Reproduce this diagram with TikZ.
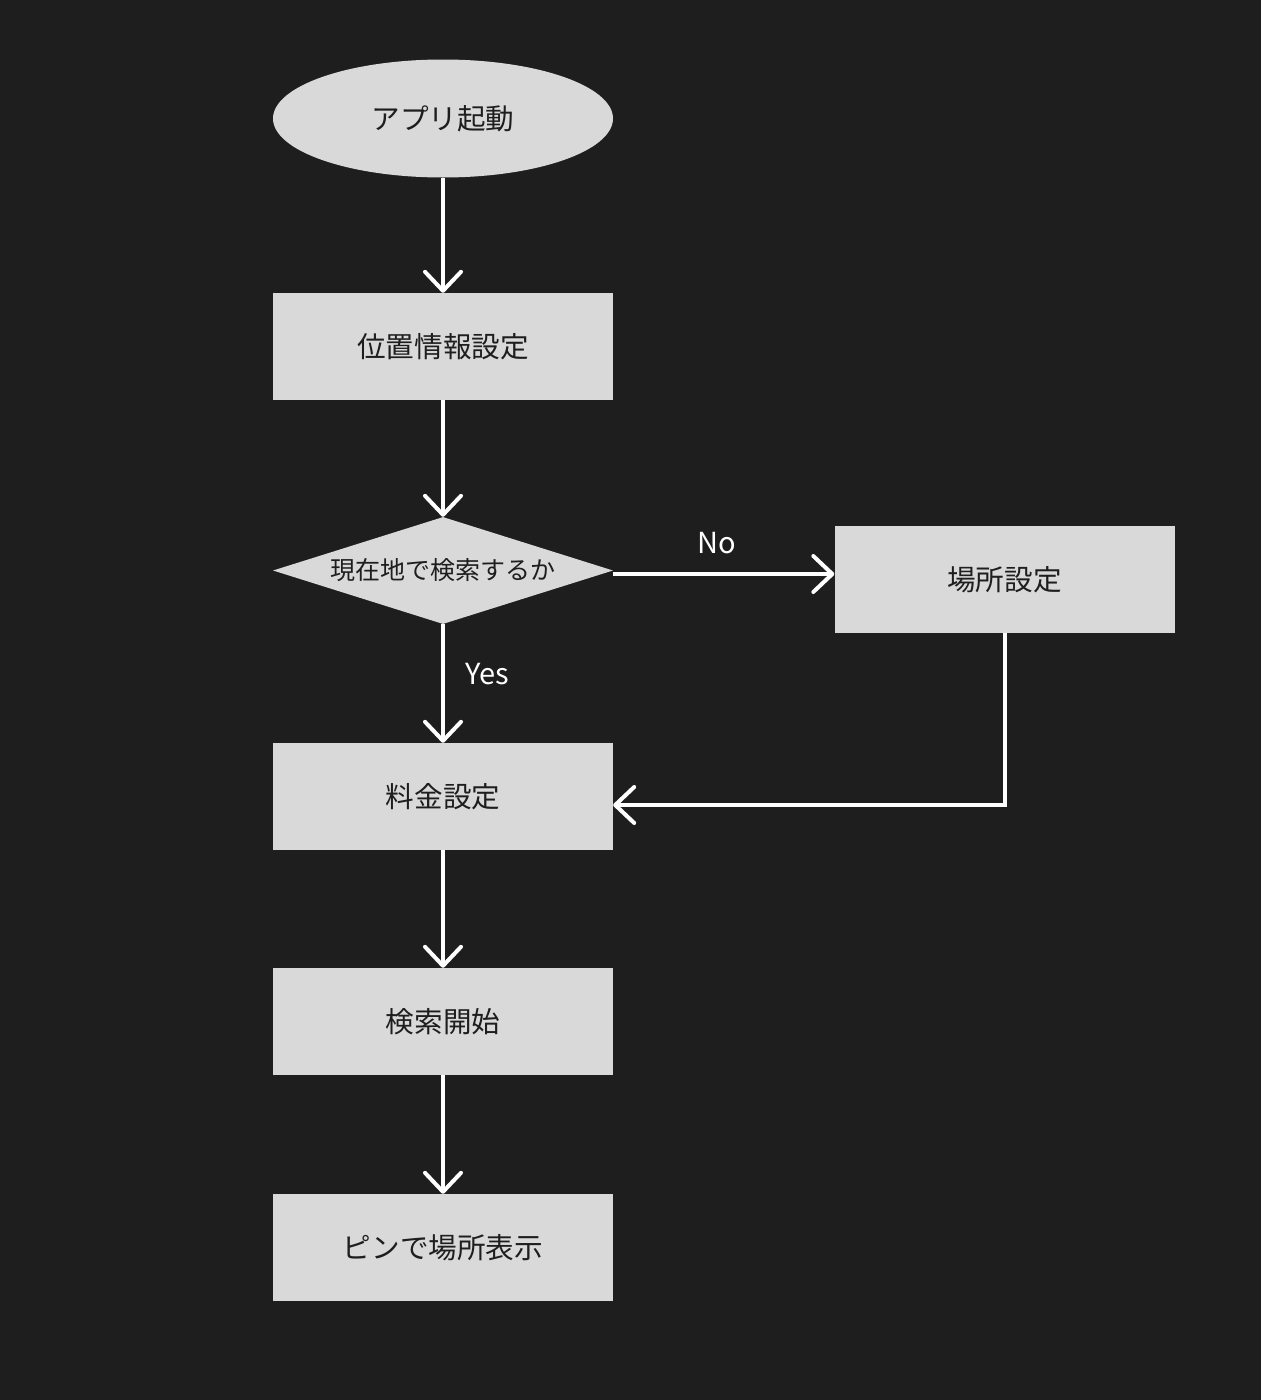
\documentclass[tikz,border=0pt]{standalone}
\usepackage{fontspec}
\setmainfont{Noto Sans CJK JP}
\usetikzlibrary{arrows.meta,shapes.geometric}
\definecolor{bg}{HTML}{1E1E1E}
\definecolor{nodefill}{HTML}{D9D9D9}
\definecolor{ink}{HTML}{1E1E1E}
\begin{document}
\begin{tikzpicture}[x=1pt,y=-1pt,
  box/.style={draw=none,fill=nodefill,minimum width=340pt,minimum height=107pt,inner sep=0pt,text=ink,font=\fontsize{28.6}{33}\selectfont},
  startnode/.style={ellipse,draw=none,fill=nodefill,minimum width=340pt,minimum height=118pt,inner sep=0pt,text=ink,font=\fontsize{28.6}{33}\selectfont},
  decision/.style={diamond,draw=none,fill=nodefill,minimum width=340pt,minimum height=107pt,aspect=3.18,inner sep=0pt,text=ink,font=\fontsize{25}{30}\selectfont},
  flow/.style={draw=white,line width=4pt,-{Straight Barb[length=19pt,width=36pt,line cap=round,line join=round]}},
  lbl/.style={text=white,font=\fontsize{29}{33}\selectfont,inner sep=0pt}]
\fill[bg] (0,0) rectangle (1261,1400);
\useasboundingbox (0,0) rectangle (1261,1400);
\node[startnode] (start) at (443,118.5) {アプリ起動};
\node[box] (loc) at (443,346.5) {位置情報設定};
\node[decision] (dec) at (443,570.5) {現在地で検索するか};
\node[box] (place) at (1004.5,579.5) {場所設定};
\node[box] (fee) at (443,796.5) {料金設定};
\node[box] (search) at (443,1021.5) {検索開始};
\node[box] (pin) at (443,1247.5) {ピンで場所表示};
\coordinate (bend) at (1004.5,805);
\draw[flow] (start.south) -- (loc.north);
\draw[flow] (loc.south) -- (dec.north);
\draw[flow] (dec.east |- 0,574) -- (place.west |- 0,574);
\draw[flow] (dec.south) -- (fee.north);
\draw[flow] (place.south) -- (bend) -- (fee.east |- bend);
\draw[flow] (fee.south) -- (search.north);
\draw[flow] (search.south) -- (pin.north);
\node[lbl] (no) at (717,543) {No};
\node[lbl] (yes) at (487,674) {Yes};
\end{tikzpicture}
\end{document}
